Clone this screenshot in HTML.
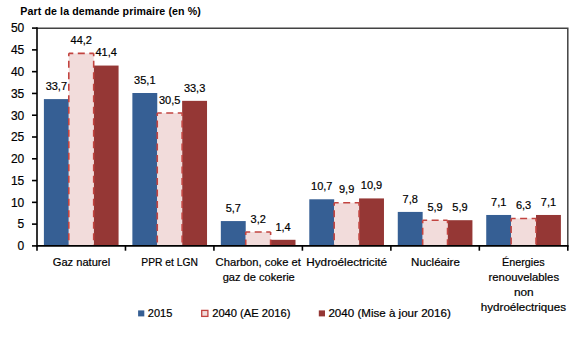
<!DOCTYPE html><html><head><meta charset="utf-8"><style>html,body{margin:0;padding:0;background:#fff;width:580px;height:338px;overflow:hidden}svg{display:block}text{font-family:"Liberation Sans",sans-serif;fill:#000;stroke:#000;stroke-width:0.2px}</style></head><body>
<svg width="580" height="338" viewBox="0 0 580 338">
<text transform="translate(20.3,14.7) scale(0.9,1)" x="0" y="0" font-size="11.8" font-weight="bold" style="stroke:none" textLength="200.6" lengthAdjust="spacing">Part de la demande primaire (en %)</text>
<rect x="43.90" y="99.10" width="24.89" height="146.80" fill="#365f94"/>
<rect x="93.68" y="65.56" width="24.89" height="180.34" fill="#953735"/>
<rect x="68.79" y="53.36" width="24.89" height="192.54" fill="#f2dcdb"/>
<g fill="none" stroke="#c24440" stroke-width="1.6" stroke-dasharray="7,4.5">
<path d="M68.79 53.36 H93.68" stroke-dashoffset="2.5"/>
<path d="M68.79 53.36 V245.90" stroke-dashoffset="4"/>
<path d="M93.68 53.36 V245.90" stroke-dashoffset="4"/>
</g>
<text x="56.34" y="89.80" font-size="11" text-anchor="middle">33,7</text>
<text x="81.23" y="44.06" font-size="11" text-anchor="middle">44,2</text>
<text x="106.12" y="56.26" font-size="11" text-anchor="middle">41,4</text>
<rect x="132.37" y="93.00" width="24.89" height="152.90" fill="#365f94"/>
<rect x="182.14" y="100.85" width="24.89" height="145.05" fill="#953735"/>
<rect x="157.26" y="113.04" width="24.89" height="132.86" fill="#f2dcdb"/>
<g fill="none" stroke="#c24440" stroke-width="1.6" stroke-dasharray="7,4.5">
<path d="M157.26 113.04 H182.14" stroke-dashoffset="2.5"/>
<path d="M157.26 113.04 V245.90" stroke-dashoffset="4"/>
<path d="M182.14 113.04 V245.90" stroke-dashoffset="4"/>
</g>
<text x="144.81" y="83.70" font-size="11" text-anchor="middle">35,1</text>
<text x="169.70" y="103.74" font-size="11" text-anchor="middle">30,5</text>
<text x="194.59" y="91.55" font-size="11" text-anchor="middle">33,3</text>
<rect x="220.83" y="221.07" width="24.89" height="24.83" fill="#365f94"/>
<rect x="270.61" y="239.80" width="24.89" height="6.10" fill="#953735"/>
<rect x="245.72" y="231.96" width="24.89" height="13.94" fill="#f2dcdb"/>
<g fill="none" stroke="#c24440" stroke-width="1.6" stroke-dasharray="7,4.5">
<path d="M245.72 231.96 H270.61" stroke-dashoffset="2.5"/>
<path d="M245.72 231.96 V245.90" stroke-dashoffset="4"/>
<path d="M270.61 231.96 V245.90" stroke-dashoffset="4"/>
</g>
<text x="233.28" y="211.77" font-size="11" text-anchor="middle">5,7</text>
<text x="258.17" y="222.66" font-size="11" text-anchor="middle">3,2</text>
<text x="283.06" y="230.50" font-size="11" text-anchor="middle">1,4</text>
<rect x="309.30" y="199.29" width="24.89" height="46.61" fill="#365f94"/>
<rect x="359.08" y="198.42" width="24.89" height="47.48" fill="#953735"/>
<rect x="334.19" y="202.78" width="24.89" height="43.12" fill="#f2dcdb"/>
<g fill="none" stroke="#c24440" stroke-width="1.6" stroke-dasharray="7,4.5">
<path d="M334.19 202.78 H359.08" stroke-dashoffset="2.5"/>
<path d="M334.19 202.78 V245.90" stroke-dashoffset="4"/>
<path d="M359.08 202.78 V245.90" stroke-dashoffset="4"/>
</g>
<text x="321.74" y="189.99" font-size="11" text-anchor="middle">10,7</text>
<text x="346.63" y="193.48" font-size="11" text-anchor="middle">9,9</text>
<text x="371.52" y="189.12" font-size="11" text-anchor="middle">10,9</text>
<rect x="397.77" y="211.92" width="24.89" height="33.98" fill="#365f94"/>
<rect x="447.54" y="220.20" width="24.89" height="25.70" fill="#953735"/>
<rect x="422.66" y="220.20" width="24.89" height="25.70" fill="#f2dcdb"/>
<g fill="none" stroke="#c24440" stroke-width="1.6" stroke-dasharray="7,4.5">
<path d="M422.66 220.20 H447.54" stroke-dashoffset="2.5"/>
<path d="M422.66 220.20 V245.90" stroke-dashoffset="4"/>
<path d="M447.54 220.20 V245.90" stroke-dashoffset="4"/>
</g>
<text x="410.21" y="202.62" font-size="11" text-anchor="middle">7,8</text>
<text x="435.10" y="210.90" font-size="11" text-anchor="middle">5,9</text>
<text x="459.99" y="210.90" font-size="11" text-anchor="middle">5,9</text>
<rect x="486.23" y="214.97" width="24.89" height="30.93" fill="#365f94"/>
<rect x="536.01" y="214.97" width="24.89" height="30.93" fill="#953735"/>
<rect x="511.12" y="218.46" width="24.89" height="27.44" fill="#f2dcdb"/>
<g fill="none" stroke="#c24440" stroke-width="1.6" stroke-dasharray="7,4.5">
<path d="M511.12 218.46 H536.01" stroke-dashoffset="2.5"/>
<path d="M511.12 218.46 V245.90" stroke-dashoffset="4"/>
<path d="M536.01 218.46 V245.90" stroke-dashoffset="4"/>
</g>
<text x="498.68" y="205.67" font-size="11" text-anchor="middle">7,1</text>
<text x="523.57" y="209.16" font-size="11" text-anchor="middle">6,3</text>
<text x="548.46" y="205.67" font-size="11" text-anchor="middle">7,1</text>
<path d="M37.0 28.3 H567.8 V245.9" fill="none" stroke="#424242" stroke-width="1.5"/>
<path d="M37.0 27.3 V246.70000000000002" stroke="#000" stroke-width="1.6"/>
<path d="M36.2 245.9 H568.5999999999999" stroke="#000" stroke-width="1.6"/>
<path d="M32 245.90 H37.0" stroke="#000" stroke-width="1.6"/>
<text x="24.3" y="250.20" font-size="12" text-anchor="end">0</text>
<path d="M32 224.12 H37.0" stroke="#000" stroke-width="1.6"/>
<text x="24.3" y="228.42" font-size="12" text-anchor="end">5</text>
<path d="M32 202.34 H37.0" stroke="#000" stroke-width="1.6"/>
<text x="24.3" y="206.64" font-size="12" text-anchor="end">10</text>
<path d="M32 180.56 H37.0" stroke="#000" stroke-width="1.6"/>
<text x="24.3" y="184.86" font-size="12" text-anchor="end">15</text>
<path d="M32 158.78 H37.0" stroke="#000" stroke-width="1.6"/>
<text x="24.3" y="163.08" font-size="12" text-anchor="end">20</text>
<path d="M32 137.00 H37.0" stroke="#000" stroke-width="1.6"/>
<text x="24.3" y="141.30" font-size="12" text-anchor="end">25</text>
<path d="M32 115.22 H37.0" stroke="#000" stroke-width="1.6"/>
<text x="24.3" y="119.52" font-size="12" text-anchor="end">30</text>
<path d="M32 93.44 H37.0" stroke="#000" stroke-width="1.6"/>
<text x="24.3" y="97.74" font-size="12" text-anchor="end">35</text>
<path d="M32 71.66 H37.0" stroke="#000" stroke-width="1.6"/>
<text x="24.3" y="75.96" font-size="12" text-anchor="end">40</text>
<path d="M32 49.88 H37.0" stroke="#000" stroke-width="1.6"/>
<text x="24.3" y="54.18" font-size="12" text-anchor="end">45</text>
<path d="M32 28.10 H37.0" stroke="#000" stroke-width="1.6"/>
<text x="24.3" y="32.40" font-size="12" text-anchor="end">50</text>
<path d="M37.00 245.9 V250.7" stroke="#000" stroke-width="1.6"/>
<path d="M125.47 245.9 V250.7" stroke="#000" stroke-width="1.6"/>
<path d="M213.93 245.9 V250.7" stroke="#000" stroke-width="1.6"/>
<path d="M302.40 245.9 V250.7" stroke="#000" stroke-width="1.6"/>
<path d="M390.87 245.9 V250.7" stroke="#000" stroke-width="1.6"/>
<path d="M479.33 245.9 V250.7" stroke="#000" stroke-width="1.6"/>
<path d="M567.80 245.9 V250.7" stroke="#000" stroke-width="1.6"/>
<text x="81.50" y="265.80" font-size="11" text-anchor="middle" textLength="57.47" lengthAdjust="spacingAndGlyphs">Gaz naturel</text>
<text x="169.65" y="265.80" font-size="11" text-anchor="middle" textLength="56.63" lengthAdjust="spacingAndGlyphs">PPR et LGN</text>
<text x="258.25" y="265.80" font-size="11" text-anchor="middle" textLength="85.28" lengthAdjust="spacingAndGlyphs">Charbon, coke et</text>
<text x="258.70" y="280.80" font-size="11" text-anchor="middle" textLength="72.15" lengthAdjust="spacingAndGlyphs">gaz de cokerie</text>
<text x="346.70" y="265.80" font-size="11" text-anchor="middle" textLength="80.81" lengthAdjust="spacingAndGlyphs">Hydroélectricité</text>
<text x="435.45" y="265.80" font-size="11" text-anchor="middle" textLength="48.77" lengthAdjust="spacingAndGlyphs">Nucléaire</text>
<text x="523.35" y="265.80" font-size="11" text-anchor="middle" textLength="42.72" lengthAdjust="spacingAndGlyphs">Énergies</text>
<text x="523.80" y="280.80" font-size="11" text-anchor="middle" textLength="70.50" lengthAdjust="spacingAndGlyphs">renouvelables</text>
<text x="523.80" y="295.80" font-size="11" text-anchor="middle" textLength="19.76" lengthAdjust="spacingAndGlyphs">non</text>
<text x="523.40" y="310.80" font-size="11" text-anchor="middle" textLength="85.12" lengthAdjust="spacingAndGlyphs">hydroélectriques</text>
<rect x="138.1" y="310.4" width="6.2" height="6.0" fill="#365f94"/>
<text x="147.8" y="316.5" font-size="11">2015</text>
<rect x="201.7" y="310.4" width="6.2" height="6.0" fill="#f2dcdb" stroke="#c24440" stroke-width="1.3"/>
<text x="212.2" y="316.5" font-size="11" textLength="78.2" lengthAdjust="spacingAndGlyphs">2040 (AE 2016)</text>
<rect x="318.8" y="310.4" width="6.2" height="6.0" fill="#953735"/>
<text x="328.4" y="316.5" font-size="11" textLength="122.4" lengthAdjust="spacingAndGlyphs">2040 (Mise à jour 2016)</text>
</svg></body></html>
